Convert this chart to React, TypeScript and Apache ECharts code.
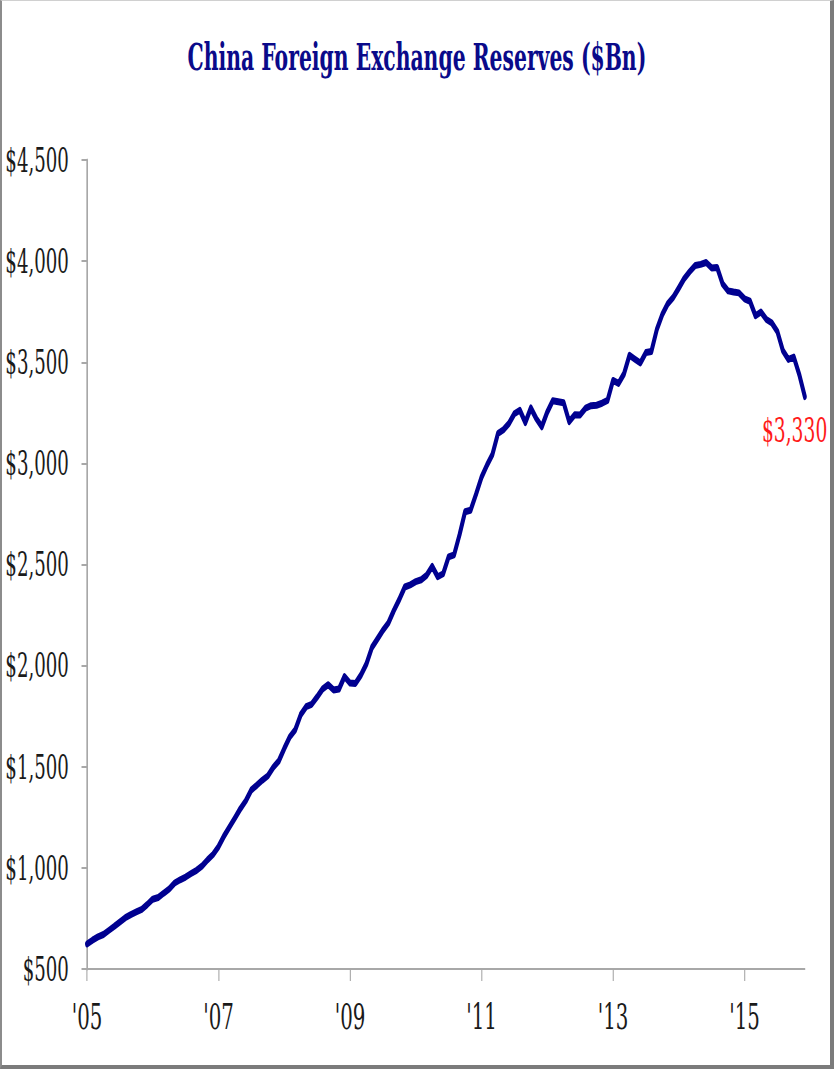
import React, { useEffect, useRef } from "react";
import * as echarts from "echarts";

// ---- data (US$ bn, end of month) ----
const TITLE = "China Foreign Exchange Reserves ($Bn)";
const years = [2005, 2006, 2007, 2008, 2009, 2010, 2011, 2012, 2013, 2014, 2015];
const reserves2005 = [623.6, 642.6, 659.1, 670.7, 691.0, 711.0, 732.7, 753.6, 769.0, 781.9, 794.3, 818.9];
const reserves2006 = [845.2, 853.7, 875.1, 895.0, 925.0, 941.1, 954.6, 972.0, 987.9, 1009.6, 1039.6, 1066.3];
const reserves2007 = [1104.6, 1157.4, 1202.0, 1246.6, 1292.7, 1332.6, 1385.2, 1408.6, 1433.6, 1454.9, 1497.0, 1528.2];
const reserves2008 = [1589.8, 1647.1, 1682.2, 1756.7, 1797.0, 1808.8, 1845.2, 1884.2, 1905.6, 1879.7, 1884.7, 1946.0];
const reserves2009 = [1913.5, 1912.1, 1953.7, 2008.9, 2089.5, 2131.6, 2174.6, 2210.8, 2272.6, 2327.3, 2388.8, 2399.2];
const reserves2010 = [2415.2, 2424.6, 2447.1, 2490.5, 2439.5, 2454.3, 2537.9, 2547.8, 2648.3, 2760.9, 2767.8, 2847.3];
const reserves2011 = [2931.7, 2991.4, 3044.7, 3147.6, 3166.2, 3197.5, 3245.3, 3262.5, 3201.7, 3273.8, 3221.2, 3181.1];
const reserves2012 = [3253.6, 3309.7, 3305.0, 3299.5, 3206.1, 3240.0, 3239.8, 3272.9, 3285.1, 3287.4, 3297.4, 3311.6];
const reserves2013 = [3410.0, 3395.4, 3442.6, 3534.5, 3515.1, 3496.7, 3547.8, 3553.0, 3662.7, 3736.6, 3789.5, 3821.3];
const reserves2014 = [3866.6, 3913.7, 3948.1, 3978.8, 3983.9, 3993.2, 3966.3, 3968.8, 3887.7, 3852.9, 3847.4, 3843.0];
const reserves2015 = [3813.4, 3801.5, 3730.0, 3748.1, 3711.1, 3693.8, 3651.3, 3557.4, 3514.1, 3525.5, 3438.0, 3330.4];
const Y_MIN = 500;
const Y_MAX = 4500;
const Y_STEP = 500;

const yearly = [
  reserves2005, reserves2006, reserves2007, reserves2008, reserves2009, reserves2010,
  reserves2011, reserves2012, reserves2013, reserves2014, reserves2015,
];

// ---- layout ----
const S = 0.55; // horizontal squeeze of the whole picture
const PAGE_W = 834;
const PAGE_H = 1069;
const W = PAGE_W / S;

const months: string[] = [];
years.forEach((y) => {
  for (let m = 1; m <= 12; m++) months.push(`${y}-${m < 10 ? "0" + m : m}`);
});
const values: any[] = ([] as number[]).concat(...yearly);

const isTick = (_i: number, v: string) => {
  const yr = Number(v.slice(0, 4));
  return v.endsWith("-01") && yr % 2 === 1;
};

export default function App() {
  const ref = useRef<HTMLDivElement>(null);
  useEffect(() => {
    const chart = echarts.init(ref.current!, null, { renderer: "svg" });
    chart.setOption({
      animation: false,
      backgroundColor: "#ffffff",
      title: {
        text: TITLE,
        left: "center",
        top: 33,
        textStyle: {
          fontFamily: "DejaVu Serif",
          fontWeight: "bold",
          fontSize: 37,
          color: "#0a0a8a",
        },
      },
      grid: {
        left: 87 / S,
        right: W - 805 / S,
        top: 160,
        bottom: PAGE_H - 969,
        containLabel: false,
      },
      xAxis: {
        type: "category",
        data: months,
        boundaryGap: false,
        axisLine: { lineStyle: { color: "#a8a8a8", width: 2 } },
        axisTick: { show: true, interval: isTick, length: 12, lineStyle: { color: "#a8a8a8", width: 2 } },
        axisLabel: {
          interval: isTick,
          formatter: (v: string) => "'" + v.slice(2, 4),
          fontFamily: "DejaVu Serif",
          fontSize: 36,
          color: "#1a1a1a",
          margin: 30,
        },
        splitLine: { show: false },
      },
      yAxis: {
        type: "value",
        min: Y_MIN,
        max: Y_MAX,
        interval: Y_STEP,
        axisLine: { show: true, lineStyle: { color: "#a8a8a8", width: 3 } },
        axisTick: { show: true, length: 10, lineStyle: { color: "#a8a8a8", width: 2 } },
        axisLabel: {
          formatter: (v: number) => "$" + v.toLocaleString("en-US"),
          fontFamily: "DejaVu Serif",
          fontSize: 33,
          color: "#1a1a1a",
          margin: 33,
        },
        splitLine: { show: false },
      },
      series: [
        {
          type: "line",
          data: values,
          showSymbol: false,
          symbol: "none",
          lineStyle: { color: "#000090", width: 7, cap: "round", join: "round" },
          itemStyle: { color: "#000090" },
          endLabel: {
            show: true,
            formatter: (p: any) => "$" + Math.round(p.value).toLocaleString("en-US"),
            fontFamily: "DejaVu Serif",
            fontSize: 34,
            color: "#ff1a1a",
            distance: 0,
            offset: [-78, 34],
          },
        },
      ],
    });
    return () => chart.dispose();
  }, []);

  return (
    <div
      style={{
        position: "absolute",
        left: 0,
        top: 0,
        width: PAGE_W,
        height: PAGE_H,
        overflow: "hidden",
        background: "#ffffff",
      }}
    >
      <div
        ref={ref}
        style={{
          position: "absolute",
          left: 0,
          top: 0,
          width: W,
          height: PAGE_H,
          transform: `scaleX(${S})`,
          transformOrigin: "0 0",
        }}
      />
      <div
        style={{
          position: "absolute",
          left: 0,
          top: 0,
          width: PAGE_W,
          height: PAGE_H,
          boxSizing: "border-box",
          borderLeft: "2px solid #8c8c8c",
          borderTop: "1px solid #d0d0d0",
          borderRight: "4px solid #7b7b7b",
          borderBottom: "4px solid #7b7b7b",
          pointerEvents: "none",
        }}
      />
    </div>
  );
}
